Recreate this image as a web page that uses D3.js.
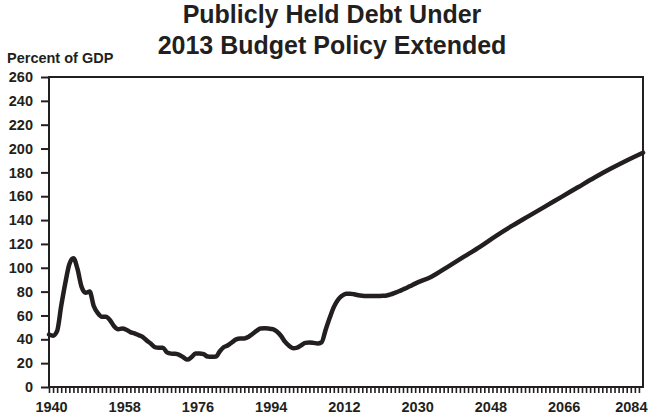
<!DOCTYPE html>
<html>
<head>
<meta charset="utf-8">
<script src="https://cdn.jsdelivr.net/npm/d3@7/dist/d3.min.js"></script>
<style>
  body { margin: 0; background: #fff; }
  text { font-family: "Liberation Sans", Arial, sans-serif; fill: #231f20; }
  .axis line { stroke: #231f20; }
</style>
</head>
<body>
<div id="debt_chart"></div>
<script>
// Debt held by the public, percent of GDP
var years = [1940, 1941, 1942, 1943, 1944, 1945, 1946, 1947, 1948, 1949,
             1950, 1951, 1952, 1953, 1954, 1955, 1956, 1957, 1958, 1959,
             1960, 1961, 1962, 1963, 1964, 1965, 1966, 1967, 1968, 1969,
             1970, 1971, 1972, 1973, 1974, 1975, 1976, 1977, 1978, 1979,
             1980, 1981, 1982, 1983, 1984, 1985, 1986, 1987, 1988, 1989,
             1990, 1991, 1992, 1993, 1994, 1995, 1996, 1997, 1998, 1999,
             2000, 2001, 2002, 2003, 2004, 2005, 2006, 2007, 2008, 2009,
             2010, 2011, 2012, 2013, 2014, 2015, 2016, 2017, 2018, 2019,
             2020, 2021, 2022, 2023, 2024, 2025, 2026, 2027, 2028, 2029,
             2030, 2034, 2038, 2042, 2046, 2050, 2054, 2058, 2062, 2066,
             2070, 2074, 2078, 2082, 2086];
var debt = [44, 43, 47, 68, 87, 103, 108, 99, 84, 79,
            80, 68, 62, 59, 59, 56, 51, 48.5, 49, 48,
            46, 45, 43.5, 42, 39, 36.5, 33.5, 33, 33, 29,
            28, 27.8, 27, 25, 23, 25, 28, 28, 27.5, 25.5,
            25.3, 25.5, 30, 33.5, 35, 37.5, 40, 40.7, 40.7, 42,
            44.5, 47, 49, 49.2, 49, 48.5, 46.5, 43, 38, 34.5,
            32.5, 33, 35, 37, 37.3, 37, 36.5, 37.5, 48, 58,
            67, 73, 76.5, 78.3, 78.3, 77.8, 77, 76.5, 76.3, 76.3,
            76.3, 76.4, 76.5, 76.8, 77.7, 79, 80.3, 81.8, 83.3, 85,
            86.7, 92.5, 100.8, 109.3, 117.8, 127, 135.5, 143.5, 151.5, 159.5,
            167.5, 175.5, 183, 190, 196.5];

var yTicks = [0, 20, 40, 60, 80, 100, 120, 140, 160, 180, 200, 220, 240, 260];
var xLabels = [1940, 1958, 1976, 1994, 2012, 2030, 2048, 2066, 2084];

var margin = {top: 77, right: 8, bottom: 31, left: 49},
    width = 651 - margin.left - margin.right,
    height = 418 - margin.top - margin.bottom;

var svg = d3.select("#debt_chart")
  .append("svg")
    .attr("width", width + margin.left + margin.right)
    .attr("height", height + margin.top + margin.bottom)
  .append("g")
    .attr("transform", "translate(" + margin.left + "," + margin.top + ")");

var x = d3.scaleLinear()
  .domain([1940, 2086])
  .range([0, width]);

var y = d3.scaleLinear()
  .domain([0, 260])
  .range([height, 0]);

// Y axis
svg.append("g")
  .attr("class", "axis")
  .call(d3.axisLeft(y).tickValues(yTicks).tickSize(8).tickPadding(8))
  .call(function(g) { g.select(".domain").remove(); })
  .call(function(g) { g.selectAll(".tick line").attr("stroke-width", 2); })
  .selectAll("text")
    .style("font-size", "14.5px")
    .style("font-weight", "bold")
    .style("font-family", "'Liberation Sans', Arial, sans-serif");

// yearly minor ticks on the bottom
svg.append("g")
  .attr("class", "axis")
  .attr("transform", "translate(0," + height + ")")
  .call(d3.axisBottom(x).tickValues(d3.range(1940, 2086)).tickSize(6).tickFormat(""))
  .call(function(g) { g.select(".domain").remove(); })
  .selectAll(".tick line").attr("stroke-width", 1.6);

// labelled years
var xLab = svg.append("g")
  .attr("class", "axis")
  .attr("transform", "translate(0," + height + ")")
  .call(d3.axisBottom(x).tickValues(xLabels).tickSize(0).tickPadding(15).tickFormat(d3.format("d")))
  .call(function(g) { g.select(".domain").remove(); });
xLab.selectAll("text")
  .style("font-size", "14.5px")
  .style("font-weight", "bold")
  .style("font-family", "'Liberation Sans', Arial, sans-serif")
  .attr("dx", function(d) { return d == 2084 ? -4 : 2; });

// frame
svg.append("rect")
  .attr("x", 0)
  .attr("y", 0)
  .attr("width", width)
  .attr("height", height)
  .attr("fill", "none")
  .attr("stroke", "#231f20")
  .attr("stroke-width", 2);

// the debt line
var line = d3.line()
  .x(function(d, i) { return x(years[i]); })
  .y(function(d) { return y(d); })
  .curve(d3.curveMonotoneX);

svg.append("path")
  .datum(debt)
  .attr("fill", "none")
  .attr("stroke", "#231f20")
  .attr("stroke-width", 4.5)
  .attr("stroke-linejoin", "round")
  .attr("stroke-linecap", "round")
  .attr("d", line);

// Title
svg.append("text")
  .attr("x", 332 - margin.left)
  .attr("y", 23 - margin.top)
  .attr("text-anchor", "middle")
  .style("font-size", "25px")
  .style("font-weight", "bold")
  .text("Publicly Held Debt Under");
svg.append("text")
  .attr("x", 332 - margin.left)
  .attr("y", 54 - margin.top)
  .attr("text-anchor", "middle")
  .style("font-size", "25px")
  .style("font-weight", "bold")
  .text("2013 Budget Policy Extended");

// Y axis label
svg.append("text")
  .attr("x", 7 - margin.left)
  .attr("y", 63 - margin.top)
  .style("font-size", "14.5px")
  .style("font-weight", "bold")
  .text("Percent of GDP");
</script>
</body>
</html>
